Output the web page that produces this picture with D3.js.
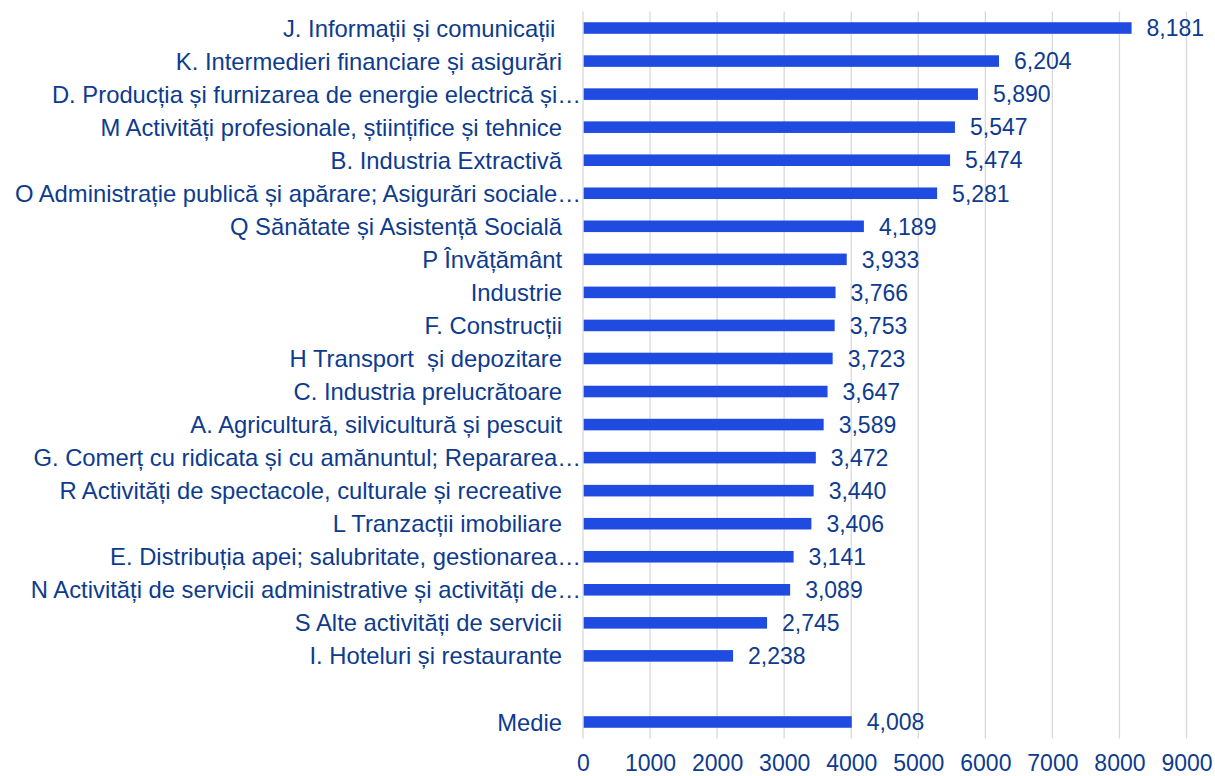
<!DOCTYPE html>
<html>
<head>
<meta charset="utf-8">
<script src="https://cdn.jsdelivr.net/npm/d3@7/dist/d3.min.js"></script>
<style>
  html, body { margin: 0; padding: 0; background: #ffffff; }
  svg { display: block; }
  text { font-family: "Liberation Sans", Arial, sans-serif; white-space: pre; }
</style>
</head>
<body>
<svg id="chart" width="1215" height="776"></svg>
<script>
// Average monthly earnings by sector (lei)
const sectors = [
  "J. Informații și comunicații ",
  "K. Intermedieri financiare și asigurări",
  "D. Producția și furnizarea de energie electrică și…",
  "M Activități profesionale, științifice și tehnice",
  "B. Industria Extractivă",
  "O Administrație publică și apărare; Asigurări sociale…",
  "Q Sănătate și Asistență Socială",
  "P Învățământ",
  "Industrie",
  "F. Construcții",
  "H Transport  și depozitare",
  "C. Industria prelucrătoare",
  "A. Agricultură, silvicultură și pescuit",
  "G. Comerț cu ridicata și cu amănuntul; Repararea…",
  "R Activități de spectacole, culturale și recreative",
  "L Tranzacții imobiliare",
  "E. Distribuția apei; salubritate, gestionarea…",
  "N Activități de servicii administrative și activități de…",
  "S Alte activități de servicii",
  "I. Hoteluri și restaurante"
];
const sectorValues = [8181, 6204, 5890, 5547, 5474, 5281, 4189, 3933, 3766, 3753,
                      3723, 3647, 3589, 3472, 3440, 3406, 3141, 3089, 2745, 2238];
const averageLabel = "Medie";
const averageValue = 4008;
const xTicks = [0, 1000, 2000, 3000, 4000, 5000, 6000, 7000, 8000, 9000];

// Rows: sectors, an empty spacer row, then the average
const rows = sectors.map((name, i) => ({ key: "s" + i, name, value: sectorValues[i] }))
  .concat([{ key: "gap", name: "", value: null },
           { key: "avg", name: averageLabel, value: averageValue }]);

const barColor = "#1f4be1";
const textColor = "#0d3b8e";
const gridColor = "#d9d9d9";

const svg = d3.select("#chart");

const x = d3.scaleLinear().domain([0, 9000]).range([583, 1186.5]);
const y = d3.scaleBand().domain(rows.map(d => d.key)).range([11.5, 738.5]).padding(0);
const barH = y.bandwidth() * 0.35;

// Vertical gridlines
svg.append("g").selectAll("line").data(xTicks).join("line")
  .attr("x1", d => x(d)).attr("x2", d => x(d))
  .attr("y1", 11.5).attr("y2", 738.5)
  .attr("stroke", gridColor).attr("stroke-width", 1.3);

// Bars
svg.append("g").selectAll("rect").data(rows.filter(d => d.value != null)).join("rect")
  .attr("x", x(0) + 0.7)
  .attr("y", d => y(d.key) + (y.bandwidth() - barH) / 2)
  .attr("width", d => x(d.value) - x(0) - 0.7)
  .attr("height", barH)
  .attr("fill", barColor);

// Value labels
const fmt = d3.format(",");
svg.append("g").selectAll("text").data(rows.filter(d => d.value != null)).join("text")
  .attr("x", d => x(d.value) + 15)
  .attr("y", d => y(d.key) + y.bandwidth() / 2)
  .attr("dy", "0.36em")
  .attr("fill", textColor)
  .attr("font-size", 23)
  .text(d => fmt(d.value));

// Category labels (truncated names run up to the axis)
svg.append("g").selectAll("text").data(rows).join("text")
  .attr("x", d => d.name.endsWith("…") ? x(0) - 2 : x(0) - 21)
  .attr("y", d => y(d.key) + y.bandwidth() / 2)
  .attr("dy", "0.36em")
  .attr("text-anchor", "end")
  .attr("fill", textColor)
  .attr("font-size", 23.8)
  .text(d => d.name);

// Bottom axis tick labels
const xAxis = d3.axisBottom(x).tickValues(xTicks).tickSize(0).tickPadding(0).tickFormat(d3.format("d"));
const gx = svg.append("g").attr("transform", "translate(0,755)").call(xAxis);
gx.select(".domain").remove();
gx.selectAll("text")
  .attr("font-family", "Liberation Sans, Arial, sans-serif")
  .attr("font-size", 23)
  .attr("fill", textColor);
</script>
</body>
</html>
